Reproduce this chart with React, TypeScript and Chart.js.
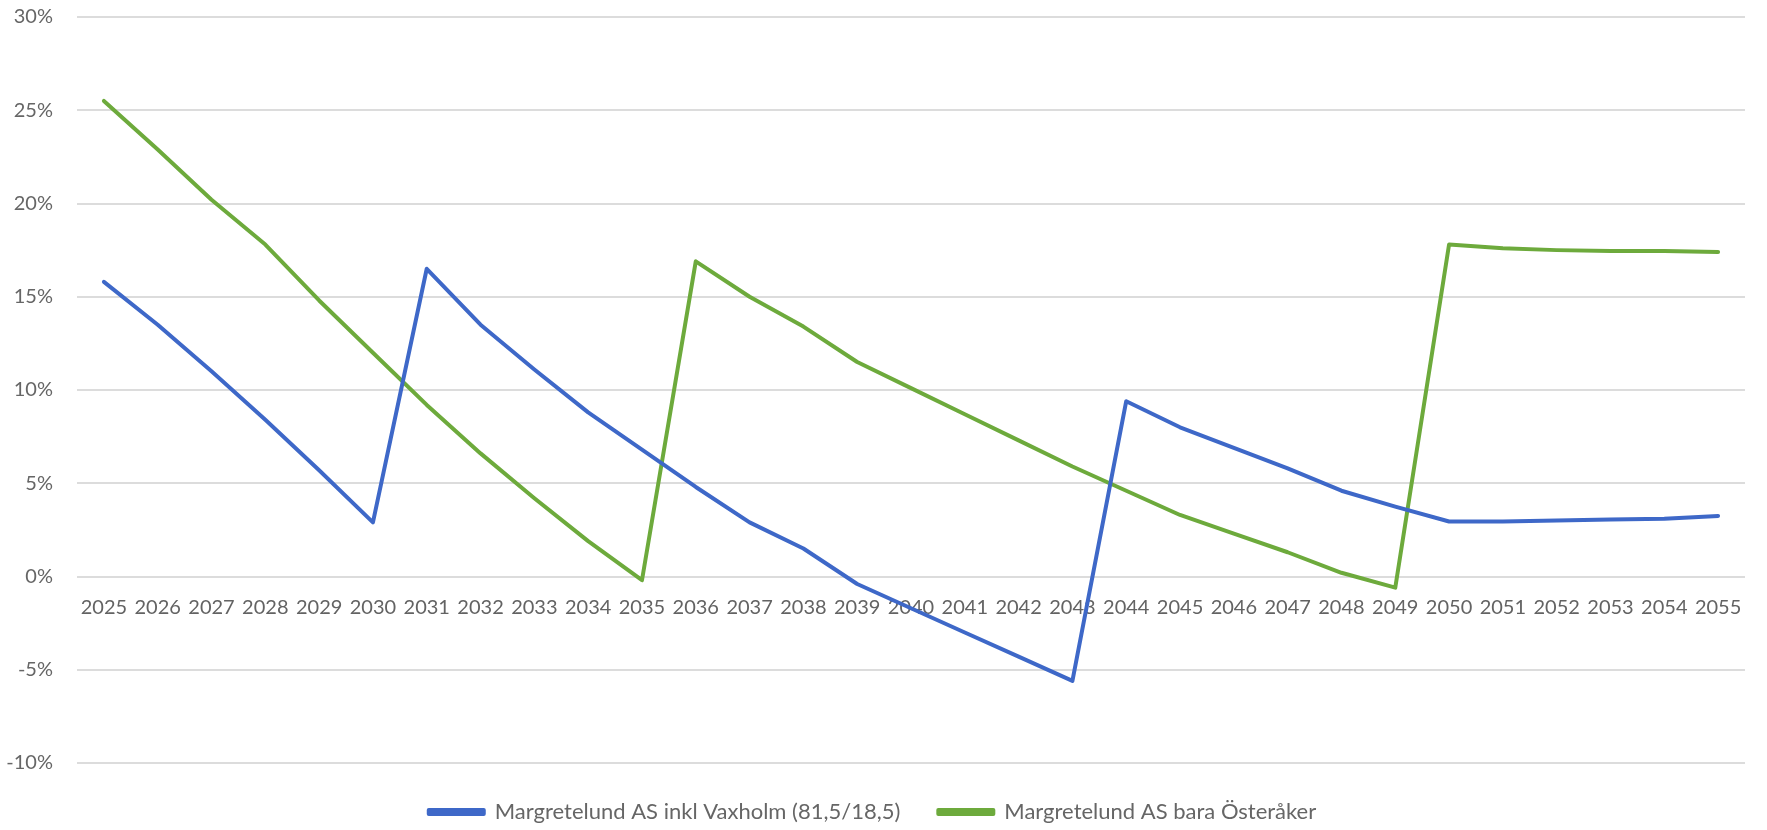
import React, { useEffect, useRef } from "react";
import { Chart, registerables } from "chart.js";

Chart.register(...registerables);

const years = [
  "2025", "2026", "2027", "2028", "2029", "2030", "2031", "2032", "2033", "2034",
  "2035", "2036", "2037", "2038", "2039", "2040", "2041", "2042", "2043", "2044",
  "2045", "2046", "2047", "2048", "2049", "2050", "2051", "2052", "2053", "2054", "2055",
];

const inklVaxholm = [
  15.8, 13.5, 11.0, 8.4, 5.7, 2.9, 16.5, 13.5, 11.1, 8.8,
  6.8, 4.8, 2.9, 1.5, -0.4, -1.7, -3.0, -4.3, -5.6, 9.4,
  8.0, 6.9, 5.8, 4.6, 3.75, 2.95, 2.95, 3.0, 3.05, 3.1, 3.25,
];

const baraOsteraker = [
  25.5, 22.9, 20.2, 17.8, 14.8, 12.0, 9.2, 6.6, 4.2, 1.9,
  -0.2, 16.9, 15.0, 13.4, 11.5, 10.1, 8.7, 7.3, 5.9, 4.6,
  3.3, 2.3, 1.3, 0.2, -0.6, 17.8, 17.6, 17.5, 17.45, 17.45, 17.4,
];

const seriesNames = [
  "Margretelund AS inkl Vaxholm (81,5/18,5)",
  "Margretelund AS bara Österåker",
];

const yMin = -10;
const yMax = 30;
const yStep = 5;

export default function App() {
  const ref = useRef<HTMLCanvasElement | null>(null);

  useEffect(() => {
    if (!ref.current) return;
    const font = "Lato, 'Open Sans', sans-serif";
    const chart = new Chart(ref.current, {
      type: "line",
      data: {
        labels: years,
        datasets: [
          {
            label: seriesNames[0],
            data: inklVaxholm,
            borderColor: "#3E68C8",
            backgroundColor: "#3E68C8",
            borderWidth: 4,
            pointRadius: 0,
            tension: 0,
            borderJoinStyle: "round",
            borderCapStyle: "round",
          },
          {
            label: seriesNames[1],
            data: baraOsteraker,
            borderColor: "#6DAA3C",
            backgroundColor: "#6DAA3C",
            borderWidth: 4,
            pointRadius: 0,
            tension: 0,
            borderJoinStyle: "round",
            borderCapStyle: "round",
          },
        ],
      },
      options: {
        animation: false,
        responsive: true,
        maintainAspectRatio: false,
        layout: { padding: { top: 17, right: 22, left: 0, bottom: -3 } },
        plugins: {
          tooltip: { enabled: false },
          legend: {
            position: "bottom",
            labels: {
              boxWidth: 55,
              boxHeight: 4,
              padding: 38,
              color: "#666666",
              font: { family: font, size: 22 },
            },
          },
        },
        scales: {
          x: {
            position: { y: 0 },
            offset: true,
            grid: { display: false, drawTicks: false },
            border: { display: false },
            ticks: {
              autoSkip: false,
              maxRotation: 0,
              minRotation: 0,
              padding: 19,
              color: "#636363",
              font: { family: font, size: 20 },
            },
            afterFit: (s: any) => {
              s.height = 0;
            },
          },
          y: {
            min: yMin,
            max: yMax,
            grid: {
              color: "#dcdcdc",
              lineWidth: 2,
              drawTicks: true,
              tickLength: 24,
              tickColor: "rgba(0,0,0,0)",
            },
            border: { display: false },
            ticks: {
              stepSize: yStep,
              padding: 0,
              color: "#666666",
              font: { family: font, size: 20 },
              callback: (v: any) => `${v}%`,
            },
            afterFit: (s: any) => {
              s.width = 77;
            },
          },
        },
      },
    });
    return () => chart.destroy();
  }, []);

  return (
    <div style={{ position: "fixed", left: 0, top: 0, width: 1767, height: 830, background: "#fff" }}>
      <canvas ref={ref} />
    </div>
  );
}
